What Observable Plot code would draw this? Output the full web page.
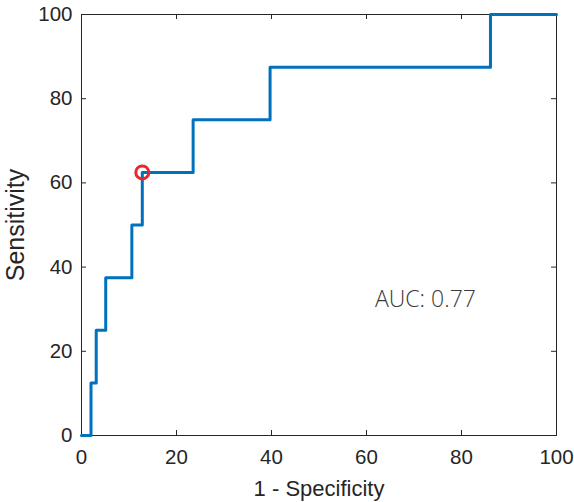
<!DOCTYPE html>
<html>
<head>
<meta charset="utf-8">
<script src="https://cdn.jsdelivr.net/npm/d3@7"></script>
<script src="https://cdn.jsdelivr.net/npm/@observablehq/plot@0.6"></script>
<style>
  html, body { margin: 0; padding: 0; background: #fff; }
  #chart svg { display: block; }
</style>
</head>
<body>
<div id="chart"></div>
<script>
// ROC curve values (percent)
const fpr = [0, 2, 3.1, 5.1, 10.6, 12.8, 23.5, 39.7, 86.1, 100];
const tpr = [0, 12.5, 25, 37.5, 50, 62.5, 75, 87.5, 100, 100];
// optimal operating point
const optFpr = [12.8];
const optTpr = [62.5];
// ticks
const xTicks = [0, 20, 40, 60, 80, 100];
const yTicks = [0, 20, 40, 60, 80, 100];
// annotation
const aucLabel = ["AUC: 0.77"];
const aucPos = [{x: 72.4, y: 32.3}];

const roc = fpr.map((x, i) => ({x, y: tpr[i]}));
const opt = optFpr.map((x, i) => ({x, y: optTpr[i]}));

const W = 574, H = 502;
const mL = 81, mR = 18, mT = 14, mB = 67;
const ph = H - mT - mB, pw = W - mL - mR;
const tick = 5;
const axisColor = "#262626";

const chart = Plot.plot({
  width: W,
  height: H,
  marginLeft: mL,
  marginRight: mR,
  marginTop: mT,
  marginBottom: mB,
  style: {fontFamily: "'Liberation Sans', Arial, sans-serif", fontSize: "20px", color: axisColor, background: "#fff", overflow: "visible"},
  x: {domain: [0, 100]},
  y: {domain: [0, 100]},
  marks: [
    // inward ticks on all four sides
    Plot.ruleX(xTicks, {x: d => d, stroke: axisColor, strokeWidth: 1, insetTop: ph - tick}),
    Plot.ruleX(xTicks, {x: d => d, stroke: axisColor, strokeWidth: 1, insetBottom: ph - tick}),
    Plot.ruleY(yTicks, {y: d => d, stroke: axisColor, strokeWidth: 1, insetRight: pw - tick}),
    Plot.ruleY(yTicks, {y: d => d, stroke: axisColor, strokeWidth: 1, insetLeft: pw - tick}),
    Plot.frame({stroke: axisColor, strokeWidth: 1}),
    Plot.axisX(xTicks, {anchor: "bottom", tickSize: 0, tickPadding: 14, label: null, fontSize: 20.5, fill: axisColor}),
    Plot.axisY(yTicks, {anchor: "left", tickSize: 0, tickPadding: 9, label: null, fontSize: 20.5, fill: axisColor}),
    Plot.line(roc, {x: "x", y: "y", curve: "step-after", stroke: "#0072BD", strokeWidth: 3}),
    Plot.dot(opt, {x: "x", y: "y", r: 6.5, stroke: "#E8262B", strokeWidth: 3, fill: "none"}),
    Plot.text(aucLabel, {x: () => aucPos[0].x, y: () => aucPos[0].y, text: d => d, fontSize: 23, fontFamily: "'Open Sans', sans-serif", fontWeight: 300, fill: "#3a3a3a"}),
    Plot.text(["1 - Specificity"], {frameAnchor: "bottom", dy: 60, fontSize: 22, fill: axisColor, lineAnchor: "bottom", textAnchor: "middle"}),
    Plot.text(["Sensitivity"], {frameAnchor: "left", dx: -66, rotate: -90, fontSize: 25, fill: axisColor, lineAnchor: "middle", textAnchor: "middle"})
  ]
});
document.getElementById("chart").appendChild(chart);
</script>
</body>
</html>
